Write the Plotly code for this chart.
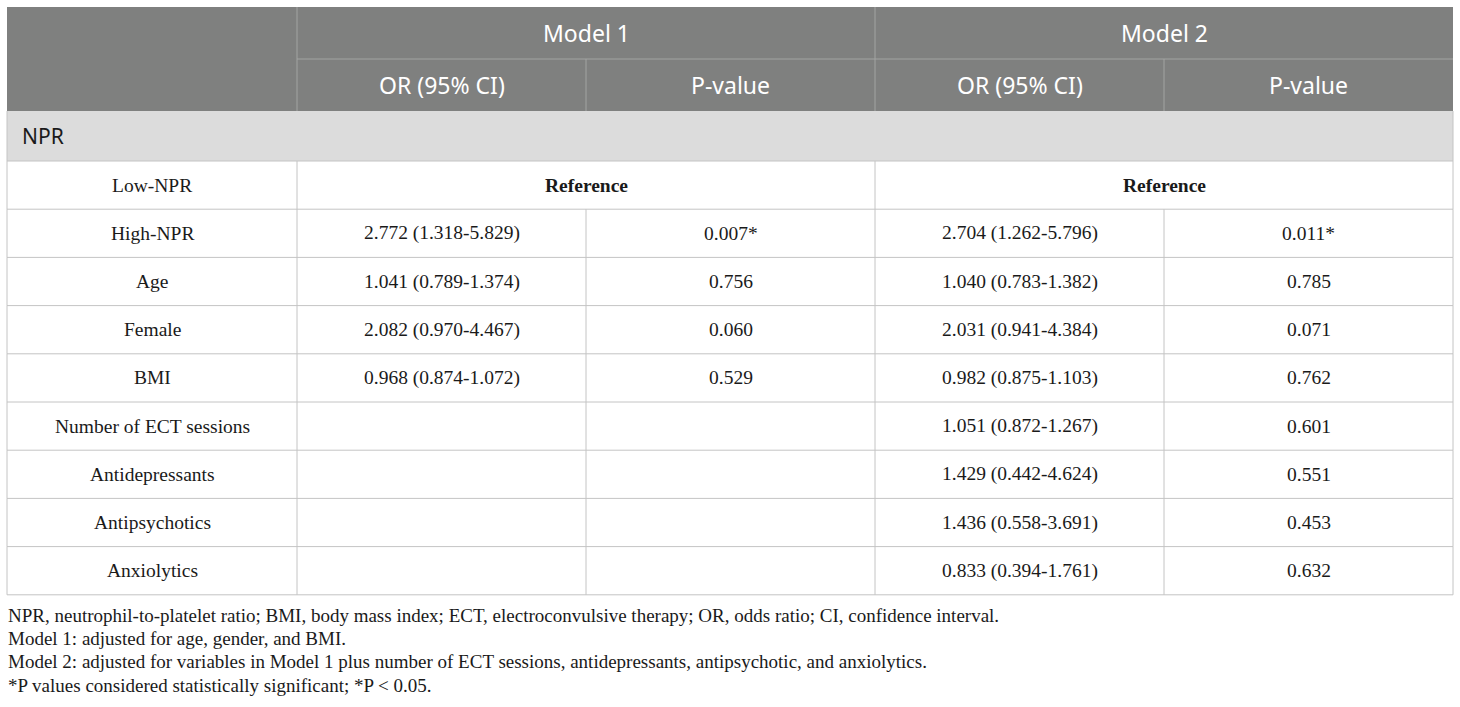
import plotly.graph_objects as go

# table content
groups = ["Model 1", "Model 2"]
sub_headers = ["OR (95% CI)", "P-value", "OR (95% CI)", "P-value"]
section = "NPR"
variables = ["Low-NPR", "High-NPR", "Age", "Female", "BMI",
             "Number of ECT sessions", "Antidepressants", "Antipsychotics", "Anxiolytics"]
m1_or = ["Reference", "2.772 (1.318-5.829)", "1.041 (0.789-1.374)", "2.082 (0.970-4.467)",
         "0.968 (0.874-1.072)", "", "", "", ""]
m1_p = ["", "0.007*", "0.756", "0.060", "0.529", "", "", "", ""]
m2_or = ["Reference", "2.704 (1.262-5.796)", "1.040 (0.783-1.382)", "2.031 (0.941-4.384)",
         "0.982 (0.875-1.103)", "1.051 (0.872-1.267)", "1.429 (0.442-4.624)",
         "1.436 (0.558-3.691)", "0.833 (0.394-1.761)"]
m2_p = ["", "0.011*", "0.785", "0.071", "0.762", "0.601", "0.551", "0.453", "0.632"]
footnotes = [
    "NPR, neutrophil-to-platelet ratio; BMI, body mass index; ECT, electroconvulsive therapy; OR, odds ratio; CI, confidence interval.",
    "Model 1: adjusted for age, gender, and BMI.",
    "Model 2: adjusted for variables in Model 1 plus number of ECT sessions, antidepressants, antipsychotic, and anxiolytics.",
    "*P values considered statistically significant; *P < 0.05.",
]

# geometry (pixel units on the axes)
col_x = [7, 297, 586, 875, 1164, 1453]
head_y = [7, 59, 111]
sect_y = [111, 161]
row_h = 48.2
row_y = [161 + i * row_h for i in range(len(variables) + 1)]

HEAD_BG = "#7f807f"
SECT_BG = "#dcdcdc"
LINE = "#c4c4c4"
HEAD_LINE = "#a3a4a3"
SANS = "Noto Sans"
SERIF = "Liberation Serif"
BODY = 19.5

shapes = []
ann = []


def rect(x0, y0, x1, y1, fill):
    shapes.append(dict(type="rect", xref="x", yref="y", x0=x0, y0=y0, x1=x1, y1=y1,
                       fillcolor=fill, line=dict(width=0), layer="below"))


def line(x0, y0, x1, y1, color):
    shapes.append(dict(type="line", xref="x", yref="y", x0=x0, y0=y0, x1=x1, y1=y1,
                       line=dict(color=color, width=1)))


def text(x, y, s, font, size, color, bold=False, anchor="center"):
    if not s:
        return
    ann.append(dict(x=x, y=y, xref="x", yref="y", text=f"<b>{s}</b>" if bold else s,
                    showarrow=False, xanchor=anchor, yanchor="middle",
                    font=dict(family=font, size=size, color=color)))


# backgrounds
rect(col_x[0], head_y[0], col_x[-1], head_y[2], HEAD_BG)
rect(col_x[0], sect_y[0], col_x[-1], sect_y[1], SECT_BG)

# header lines
line(col_x[1], head_y[0], col_x[1], head_y[2], HEAD_LINE)
line(col_x[3], head_y[0], col_x[3], head_y[2], HEAD_LINE)
line(col_x[1], head_y[1], col_x[-1], head_y[1], HEAD_LINE)
line(col_x[2], head_y[1], col_x[2], head_y[2], HEAD_LINE)
line(col_x[4], head_y[1], col_x[4], head_y[2], HEAD_LINE)

# header text
text((col_x[1] + col_x[3]) / 2, (head_y[0] + head_y[1]) / 2, groups[0], SANS, 23, "white")
text((col_x[3] + col_x[5]) / 2, (head_y[0] + head_y[1]) / 2, groups[1], SANS, 23, "white")
for i, s in enumerate(sub_headers):
    text((col_x[i + 1] + col_x[i + 2]) / 2, (head_y[1] + head_y[2]) / 2, s, SANS, 23, "white")

# section row
text(col_x[0] + 13, (sect_y[0] + sect_y[1]) / 2, section, SANS, 21, "#1a1a1a", anchor="left")

# body
for r, var in enumerate(variables):
    y0, y1 = row_y[r], row_y[r + 1]
    yc = (y0 + y1) / 2
    text((col_x[0] + col_x[1]) / 2, yc, var, SERIF, BODY, "#1a1a1a")
    if m1_or[r] == "Reference":
        text((col_x[1] + col_x[3]) / 2, yc, m1_or[r], SERIF, BODY, "#1a1a1a", bold=True)
    else:
        text((col_x[1] + col_x[2]) / 2, yc, m1_or[r], SERIF, BODY, "#1a1a1a")
        text((col_x[2] + col_x[3]) / 2, yc, m1_p[r], SERIF, BODY, "#1a1a1a")
    if m2_or[r] == "Reference":
        text((col_x[3] + col_x[5]) / 2, yc, m2_or[r], SERIF, BODY, "#1a1a1a", bold=True)
    else:
        text((col_x[3] + col_x[4]) / 2, yc, m2_or[r], SERIF, BODY, "#1a1a1a")
        text((col_x[4] + col_x[5]) / 2, yc, m2_p[r], SERIF, BODY, "#1a1a1a")
    # cell borders
    line(col_x[0], y1, col_x[-1], y1, LINE)
    for k, cx in enumerate(col_x):
        if r == 0 and k in (2, 4):
            continue
        line(cx, y0, cx, y1, LINE)

# outer border of section row and body
line(col_x[0], sect_y[0], col_x[0], sect_y[1], LINE)
line(col_x[-1], sect_y[0], col_x[-1], sect_y[1], LINE)
line(col_x[0], sect_y[1], col_x[-1], sect_y[1], LINE)

# footnotes
for i, s in enumerate(footnotes):
    text(col_x[0] - 1, 615 + i * 23.4, s, SERIF, 19, "#1a1a1a", anchor="left")

fig = go.Figure()
fig.add_trace(go.Scatter(x=[0, 1460], y=[0, 707], mode="markers",
                         marker=dict(opacity=0), hoverinfo="skip", showlegend=False))
fig.update_layout(
    width=1460, height=707, margin=dict(l=0, r=0, t=0, b=0),
    paper_bgcolor="white", plot_bgcolor="white",
    shapes=shapes, annotations=ann,
    xaxis=dict(range=[0, 1460], visible=False, fixedrange=True),
    yaxis=dict(range=[707, 0], visible=False, fixedrange=True),
)
fig.write_html("out.html", config={"displayModeBar": False},
               post_script="document.body.style.margin='0';")
